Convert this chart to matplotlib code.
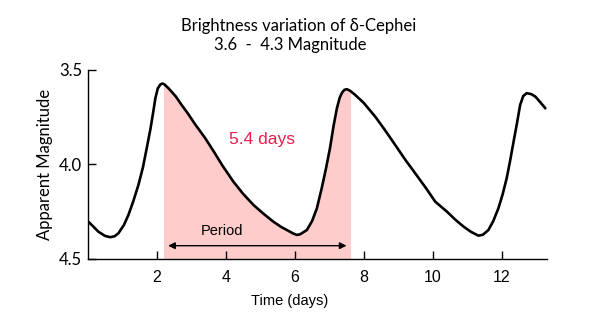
import numpy as np
import matplotlib
matplotlib.use("Agg")
import matplotlib.pyplot as plt
from matplotlib.patches import Rectangle

# light curve of delta Cephei
days = [0.02, 0.31, 0.50, 0.65, 0.78, 0.89, 1.05, 1.18, 1.32, 1.47,
        1.60, 1.71, 1.82, 1.90, 1.96, 2.03, 2.10, 2.16, 2.22, 2.34,
        2.55, 2.72, 2.90, 3.11, 3.40, 3.64, 3.90, 4.22, 4.50, 4.80,
        5.10, 5.38, 5.60, 5.77, 5.95, 6.06, 6.15, 6.35, 6.50, 6.64,
        6.78, 6.90, 7.02, 7.12, 7.22, 7.30, 7.37, 7.44, 7.51, 7.60,
        7.75, 8.00, 8.33, 8.60, 8.91, 9.20, 9.49, 9.80, 10.07, 10.41,
        10.65, 10.89, 11.10, 11.32, 11.45, 11.61, 11.75, 11.90, 12.02, 12.14,
        12.24, 12.34, 12.44, 12.53, 12.62, 12.72, 12.85, 12.97, 13.10, 13.26]
magnitude = [4.303, 4.356, 4.378, 4.385, 4.380, 4.364, 4.320, 4.267, 4.195, 4.108,
             4.015, 3.914, 3.810, 3.721, 3.650, 3.598, 3.578, 3.572, 3.576, 3.597,
             3.640, 3.685, 3.730, 3.787, 3.860, 3.928, 4.005, 4.091, 4.155, 4.214,
             4.262, 4.303, 4.330, 4.347, 4.365, 4.373, 4.370, 4.347, 4.300, 4.232,
             4.126, 4.025, 3.914, 3.800, 3.703, 3.648, 3.620, 3.605, 3.602, 3.610,
             3.632, 3.675, 3.747, 3.815, 3.897, 3.975, 4.047, 4.125, 4.197, 4.250,
             4.292, 4.329, 4.356, 4.377, 4.372, 4.347, 4.300, 4.232, 4.160, 4.073,
             3.980, 3.879, 3.780, 3.685, 3.638, 3.623, 3.628, 3.641, 3.668, 3.703]

x_ticks = [2, 4, 6, 8, 10, 12]
y_ticks = [3.5, 4.0, 4.5]
period_start = 2.2
period_end = 7.6

fig = plt.figure(figsize=(6, 3.15), dpi=100)
ax = fig.add_axes([0.1462, 0.178, 0.7650, 0.6])
ax.set_xlim(0, 13.3)
ax.set_ylim(4.5, 3.5)

# shaded period under the curve
fill = ax.fill_between(days, magnitude, 4.5, color="#ffcccc", lw=0, zorder=1)
clip = Rectangle((period_start, 3.5), period_end - period_start, 1.0,
                 transform=ax.transData, facecolor="none", edgecolor="none")
ax.add_patch(clip)
fill.set_clip_path(clip)

ax.plot(days, magnitude, color="black", lw=1.9, solid_capstyle="round",
        solid_joinstyle="round", zorder=3)

ax.annotate("", xy=(2.33, 4.43), xytext=(7.5, 4.43),
            arrowprops=dict(arrowstyle="<|-|>", color="black", lw=1.0,
                            mutation_scale=10, shrinkA=0, shrinkB=0))
ax.text(3.9, 4.35, "Period", fontsize=10.5, family="Liberation Sans",
        ha="center", va="center")
ax.text(5.05, 3.87, "5.4 days", fontsize=12.5, family="Liberation Sans",
        color="#ee1c4a", ha="center", va="center")

for side in ["top", "right"]:
    ax.spines[side].set_visible(False)
ax.spines["left"].set_linewidth(1.0)
ax.spines["bottom"].set_linewidth(1.0)
ax.set_xticks(x_ticks)
ax.set_yticks(y_ticks)
ax.set_yticklabels(["3.5", "4.0", "4.5"])
ax.tick_params(direction="in", length=6, width=1.0)
ax.tick_params(axis="x", pad=8, labelsize=11.5)
ax.tick_params(axis="y", pad=4, labelsize=12)
for lab in ax.get_xticklabels():
    lab.set_family("Liberation Sans")
for lab in ax.get_yticklabels():
    lab.set_family("Lato")

ax.set_xlabel("Time (days)", fontsize=10.5, family="Liberation Sans")
ax.xaxis.set_label_coords(0.44, -0.183)
ax.set_ylabel("Apparent Magnitude", fontsize=12, family="Lato", labelpad=4)

fig.text(0.498, 0.918, "Brightness variation of δ-Cephei", fontsize=12,
         family="Lato", ha="center", va="center")
fig.text(0.483, 0.857, "3.6  -  4.3 Magnitude", fontsize=12,
         family="Lato", ha="center", va="center")

fig.savefig("out.png", dpi=100)
